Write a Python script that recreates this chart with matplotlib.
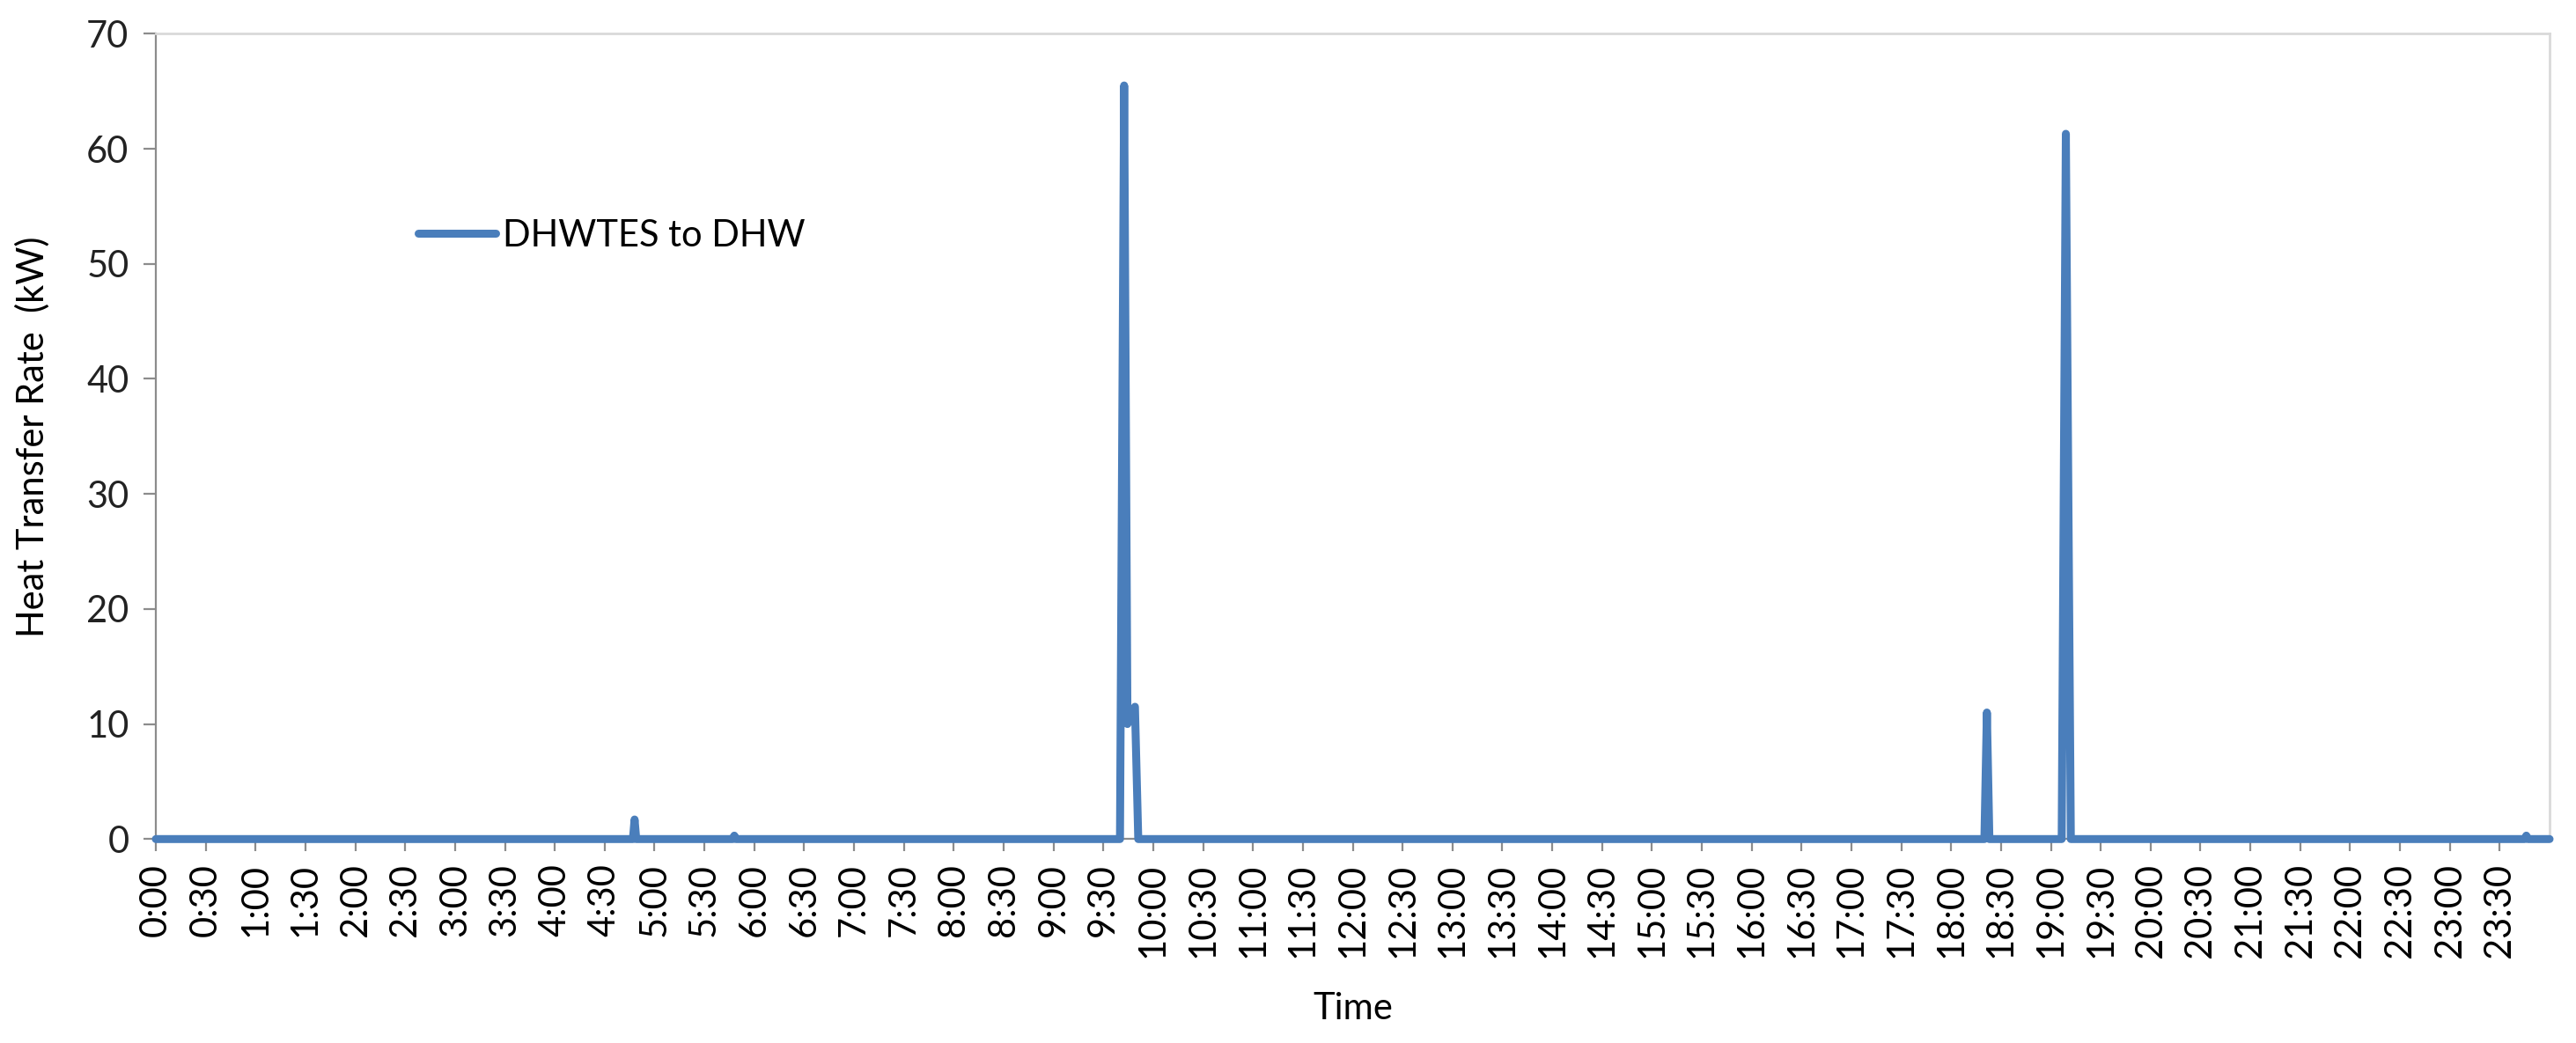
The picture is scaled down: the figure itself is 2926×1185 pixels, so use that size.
import matplotlib
matplotlib.use("Agg")
import matplotlib.pyplot as plt
from matplotlib.ticker import FixedLocator, FixedFormatter

plt.rcParams['font.family'] = ['Lato', 'DejaVu Sans']

# breakpoints of the series: time in minutes after midnight, heat rate in kW
t_min = [0, 287, 288, 289, 347, 348, 349,
         580.0, 582.5, 584.5, 589, 591.0,
         1100, 1101.5, 1103,
         1146.5, 1149, 1150.5, 1152,
         1425, 1426, 1427, 1440]
heat_kw = [0, 0, 1.7, 0, 0, 0.3, 0,
           0, 65.5, 10.0, 11.5, 0,
           0, 11.0, 0,
           0, 61.3, 30.0, 0,
           0, 0.3, 0, 0]

series_name = 'DHWTES to DHW'
tick_minutes = list(range(0, 1440, 30))
tick_labels = ['%d:%02d' % (m // 60, m % 60) for m in tick_minutes]

fig = plt.figure(figsize=(29.26, 11.85), dpi=100)
ax = fig.add_axes([177 / 2926, 1 - 953.3 / 1185, (2896 - 177) / 2926, (953.3 - 38.3) / 1185])

line_color = '#4a7ebb'
ax.plot(t_min, heat_kw, color=line_color, lw=6.5, solid_joinstyle='round',
        solid_capstyle='round', label=series_name, zorder=3, clip_on=False)

ax.set_xlim(0, 1440)
ax.set_ylim(0, 70)
ax.set_yticks(range(0, 71, 10))
ax.xaxis.set_major_locator(FixedLocator(tick_minutes))
ax.xaxis.set_major_formatter(FixedFormatter(tick_labels))

for s in ['left', 'bottom']:
    ax.spines[s].set_color('#8c8c8c')
    ax.spines[s].set_linewidth(1.6)
for s in ['top', 'right']:
    ax.spines[s].set_color('#d9d9d9')
    ax.spines[s].set_linewidth(2.0)

ax.tick_params(axis='x', direction='out', length=10, width=1.6, color='#8c8c8c',
               labelsize=30, labelrotation=90, pad=10, labelcolor='black')
ax.tick_params(axis='y', direction='out', length=10, width=1.6, color='#8c8c8c',
               labelsize=30, pad=12, labelcolor='#222222')

ax.set_xlabel('Time', fontsize=30, labelpad=28)
ax.set_ylabel('Heat Transfer Rate  (kW)', fontsize=30, labelpad=30)

leg = ax.legend(loc='center left', bbox_to_anchor=(475 / 2926, 1 - 268 / 1185),
                bbox_transform=fig.transFigure, frameon=False, fontsize=30,
                handlelength=2.1, handletextpad=0.2, borderpad=0, borderaxespad=0)

fig.savefig('out.png', dpi=100, facecolor='white')
